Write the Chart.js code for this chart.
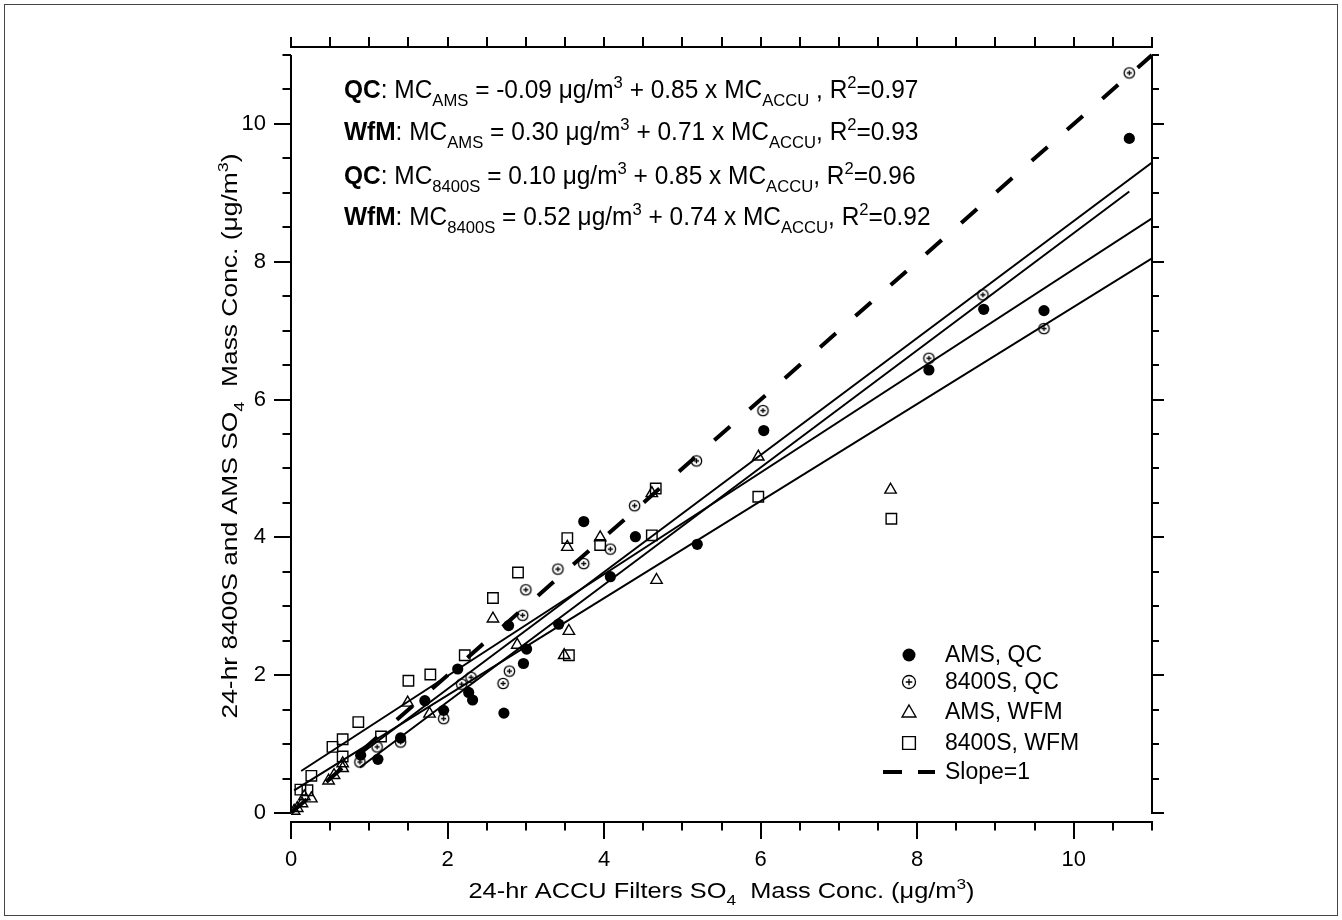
<!DOCTYPE html>
<html><head><meta charset="utf-8">
<script src="https://cdn.jsdelivr.net/npm/chart.js@4.4.1/dist/chart.umd.min.js"></script>
<style>
html,body{margin:0;padding:0;background:#fff;}
#wrap{position:relative;width:1342px;height:920px;}
canvas{display:block;}
</style></head><body>
<div id="wrap"><canvas id="c" width="1342" height="920"></canvas></div>
<script>
const FONT = '"Liberation Sans", Arial, Helvetica, sans-serif';

// ---- data ----
const amsQcX = [0.89, 1.11, 1.40, 1.71, 1.95, 2.13, 2.27, 2.32, 2.72, 2.78, 2.97, 3.01, 3.42, 3.74, 4.08, 4.40, 5.19, 6.04, 8.15, 8.85, 9.62, 10.71];
const amsQcY = [0.84, 0.78, 1.09, 1.63, 1.49, 2.09, 1.75, 1.64, 1.45, 2.72, 2.17, 2.38, 2.74, 4.23, 3.43, 4.01, 3.90, 5.55, 6.43, 7.31, 7.29, 9.79];

const s8400QcX = [0.88, 1.10, 1.40, 1.95, 2.18, 2.30, 2.71, 2.79, 2.96, 3.00, 3.41, 3.74, 4.08, 4.39, 5.18, 6.03, 8.15, 8.84, 9.62, 10.71];
const s8400QcY = [0.74, 0.96, 1.03, 1.37, 1.87, 1.97, 1.88, 2.06, 2.87, 3.24, 3.54, 3.62, 3.83, 4.46, 5.11, 5.84, 6.60, 7.52, 7.03, 10.74];

const amsWfmX = [0.04, 0.08, 0.14, 0.17, 0.26, 0.48, 0.55, 0.66, 0.66, 1.49, 1.77, 2.58, 2.89, 3.49, 3.53, 3.55, 3.95, 4.61, 4.67, 5.97, 7.66];
const amsWfmY = [0.03, 0.07, 0.14, 0.24, 0.21, 0.47, 0.55, 0.65, 0.72, 1.60, 1.44, 2.82, 2.44, 2.29, 3.86, 2.64, 4.00, 4.64, 3.38, 5.17, 4.69];

const s8400WfmX = [0.12, 0.21, 0.26, 0.53, 0.66, 0.66, 0.86, 1.15, 1.50, 1.78, 2.22, 2.58, 2.90, 3.53, 3.55, 3.95, 4.61, 4.66, 5.97, 7.67];
const s8400WfmY = [0.34, 0.33, 0.54, 0.96, 1.07, 0.82, 1.32, 1.11, 1.92, 2.01, 2.29, 3.12, 3.49, 3.99, 2.29, 3.89, 4.03, 4.71, 4.59, 4.27];

// fit lines (end points)
const fitQcAmsX = [0.88, 10.71];   const fitQcAmsY = [0.66, 9.02];
const fitWfmAmsX = [0.04, 11.0];   const fitWfmAmsY = [0.33, 8.05];
const fitQc8400X = [0.88, 11.0];   const fitQc8400Y = [0.85, 9.44];
const fitWfm8400X = [0.13, 11.0];  const fitWfm8400Y = [0.61, 8.63];
const slopeOneX = [0, 11];         const slopeOneY = [0, 11];

const xTickLabels = [0, 2, 4, 6, 8, 10];
const yTickLabels = [0, 2, 4, 6, 8, 10];
const legendLabels = ['AMS, QC', '8400S, QC', 'AMS, WFM', '8400S, WFM', 'Slope=1'];

const eqLines = [
  [{t:'QC',b:1},{t:': MC'},{t:'AMS',sub:1},{t:' = -0.09 μg/m'},{t:'3',sup:1},{t:' + 0.85 x MC'},{t:'ACCU',sub:1},{t:' , R'},{t:'2',sup:1},{t:'=0.97'}],
  [{t:'WfM',b:1},{t:': MC'},{t:'AMS',sub:1},{t:' = 0.30 μg/m'},{t:'3',sup:1},{t:' + 0.71 x MC'},{t:'ACCU',sub:1},{t:', R'},{t:'2',sup:1},{t:'=0.93'}],
  [{t:'QC',b:1},{t:': MC'},{t:'8400S',sub:1},{t:' = 0.10 μg/m'},{t:'3',sup:1},{t:' + 0.85 x MC'},{t:'ACCU',sub:1},{t:', R'},{t:'2',sup:1},{t:'=0.96'}],
  [{t:'WfM',b:1},{t:': MC'},{t:'8400S',sub:1},{t:' = 0.52 μg/m'},{t:'3',sup:1},{t:' + 0.74 x MC'},{t:'ACCU',sub:1},{t:', R'},{t:'2',sup:1},{t:'=0.92'}]
];
const xTitleRuns = [{t:'24-hr ACCU Filters SO'},{t:'4',sub:1},{t:'  Mass Conc. (μg/m'},{t:'3',sup:1},{t:')'}];
const yTitleRuns = [{t:'24-hr 8400S and AMS SO'},{t:'4',sub:1},{t:'  Mass Conc. (μg/m'},{t:'3',sup:1},{t:')'}];

const toPts = (xs, ys) => xs.map((x, i) => ({x, y: ys[i]}));

function makeCirclePlus(r, lw) {
  const s = Math.ceil(2 * r + lw + 3);
  const c = document.createElement('canvas');
  c.width = s; c.height = s;
  const g = c.getContext('2d');
  const m = s / 2;
  g.strokeStyle = '#000'; g.lineWidth = lw;
  g.beginPath(); g.arc(m, m, r, 0, Math.PI * 2); g.stroke();
  const a = r * 0.5;
  g.beginPath(); g.moveTo(m - a, m); g.lineTo(m + a, m); g.moveTo(m, m - a); g.lineTo(m, m + a); g.stroke();
  return c;
}
const cpData = makeCirclePlus(5.2, 1.3);
const cpLegend = makeCirclePlus(6.5, 1.3);

const Y_MIN = -0.13, Y_MAX = 11.116;

function runsWidth(ctx, runs, size) {
  let w = 0;
  for (const r of runs) {
    const fs = (r.sub || r.sup) ? size * 0.68 : size;
    ctx.font = (r.b ? 'bold ' : '') + fs + 'px ' + FONT;
    w += ctx.measureText(r.t).width;
  }
  return w;
}
function drawRuns(ctx, runs, x, y, size, sx) {
  ctx.save();
  ctx.translate(x, y);
  ctx.scale(sx, 1);
  ctx.textBaseline = 'alphabetic';
  ctx.textAlign = 'left';
  ctx.fillStyle = '#000';
  let cx = 0;
  for (const r of runs) {
    const fs = (r.sub || r.sup) ? size * 0.68 : size;
    ctx.font = (r.b ? 'bold ' : '') + fs + 'px ' + FONT;
    const dy = r.sub ? size * 0.3 : (r.sup ? -size * 0.42 : 0);
    ctx.fillText(r.t, cx, dy);
    cx += ctx.measureText(r.t).width;
  }
  ctx.restore();
}

const decor = {
  id: 'decor',
  afterDraw(chart) {
    const ctx = chart.ctx;
    const xs = chart.scales.x, ys = chart.scales.y;
    const ca = chart.chartArea;
    ctx.save();
    ctx.strokeStyle = '#000';
    ctx.lineCap = 'butt';
    // left and right axis lines (from 0 to 11)
    ctx.lineWidth = 2;
    const y0 = ys.getPixelForValue(0), y11 = ys.getPixelForValue(11);
    ctx.beginPath();
    ctx.moveTo(ca.left, y0 - 1); ctx.lineTo(ca.left, y11);
    ctx.moveTo(ca.right, y0 + 1); ctx.lineTo(ca.right, y11);
    ctx.stroke();
    // minor ticks
    ctx.lineWidth = 2;
    ctx.beginPath();
    for (let v = 0; v <= 11.001; v += 0.5) {
      const isMajor = Math.abs(v / 2 - Math.round(v / 2)) < 1e-6;
      if (!isMajor) {
        const px = Math.round(xs.getPixelForValue(v));
        ctx.moveTo(px, ca.bottom); ctx.lineTo(px, ca.bottom + 8.5);
      }
      const py = Math.round(ys.getPixelForValue(v));
      const ll = isMajor ? 17 : 8.5;
      if (!isMajor || v > 10.5) { ctx.moveTo(ca.left, py); ctx.lineTo(ca.left - ll, py); }
      ctx.moveTo(ca.right, py); ctx.lineTo(ca.right + (isMajor ? 12 : 7), py);
    }
    ctx.stroke();

    // equations
    const eqSize = 25;
    const eqX = 344;
    const eqBase = [98, 140, 184, 225];
    const w1 = runsWidth(ctx, eqLines[0], eqSize);
    const w4 = runsWidth(ctx, eqLines[3], eqSize);
    const sx = ((916 - eqX) / w1 + (933 - eqX) / w4) / 2;
    eqLines.forEach((runs, i) => drawRuns(ctx, runs, eqX, eqBase[i], eqSize, sx));

    // axis titles
    const tSize = 22;
    const xw = runsWidth(ctx, xTitleRuns, tSize);
    const tsx = 506 / xw;
    drawRuns(ctx, xTitleRuns, (ca.left + ca.right) / 2 - xw * tsx / 2, 898, tSize, tsx);
    const yw = runsWidth(ctx, yTitleRuns, tSize);
    const tsy = 565 / yw;
    ctx.save();
    ctx.translate(237, 436);
    ctx.rotate(-Math.PI / 2);
    drawRuns(ctx, yTitleRuns, -yw * tsy / 2, 0, tSize, tsy);
    ctx.restore();

    // legend
    const lgX = 909, lgTextX = 945;
    const lgY = [655, 682, 712, 743, 772];
    const H = Chart.helpers;
    ctx.fillStyle = '#000';
    H.drawPoint(ctx, {pointStyle: 'circle', radius: 6.5, rotation: 0, borderWidth: 0}, lgX, lgY[0]);
    H.drawPoint(ctx, {pointStyle: cpLegend, radius: 6.5, rotation: 0, borderWidth: 0}, lgX, lgY[1]);
    ctx.fillStyle = 'rgba(0,0,0,0)';
    ctx.lineWidth = 1.4;
    H.drawPoint(ctx, {pointStyle: 'triangle', radius: 8, rotation: 0, borderWidth: 1.4}, lgX, lgY[2] + 1);
    H.drawPoint(ctx, {pointStyle: 'rect', radius: 9, rotation: 0, borderWidth: 1.4}, lgX, lgY[3]);
    ctx.lineWidth = 4;
    ctx.beginPath();
    ctx.moveTo(883, lgY[4]); ctx.lineTo(902, lgY[4]);
    ctx.moveTo(918, lgY[4]); ctx.lineTo(935, lgY[4]);
    ctx.stroke();
    ctx.fillStyle = '#000';
    ctx.font = '23px ' + FONT;
    ctx.textBaseline = 'middle';
    ctx.textAlign = 'left';
    legendLabels.forEach((t, i) => ctx.fillText(t, lgTextX, lgY[i] + 1));

    // outer frame
    ctx.lineWidth = 1;
    ctx.strokeStyle = '#444';
    ctx.strokeRect(4.5, 4.5, 1333, 911);
    ctx.restore();
  }
};

const lineDs = (xs, ys, extra) => Object.assign({
  type: 'scatter', data: toPts(xs, ys), showLine: true, pointRadius: 0,
  borderColor: '#000', borderWidth: 2, fill: false, tension: 0
}, extra || {});

new Chart(document.getElementById('c'), {
  type: 'scatter',
  data: {
    datasets: [
      lineDs(slopeOneX, slopeOneY, {label: 'Slope=1', borderWidth: 4, borderDash: [21, 26]}),
      lineDs(fitQcAmsX, fitQcAmsY, {label: 'fit QC AMS'}),
      lineDs(fitWfmAmsX, fitWfmAmsY, {label: 'fit WfM AMS'}),
      lineDs(fitQc8400X, fitQc8400Y, {label: 'fit QC 8400S'}),
      lineDs(fitWfm8400X, fitWfm8400Y, {label: 'fit WfM 8400S'}),
      {label: '8400S, WFM', data: toPts(s8400WfmX, s8400WfmY), pointStyle: 'rect', pointRadius: 7.4,
       backgroundColor: 'rgba(255,255,255,0)', borderColor: '#000', borderWidth: 1.4},
      {label: 'AMS, WFM', data: toPts(amsWfmX, amsWfmY), pointStyle: 'triangle', pointRadius: 6.6,
       backgroundColor: 'rgba(255,255,255,0)', borderColor: '#000', borderWidth: 1.4},
      {label: '8400S, QC', data: toPts(s8400QcX, s8400QcY), pointStyle: cpData, pointRadius: 5,
       backgroundColor: '#000', borderColor: '#000', borderWidth: 0},
      {label: 'AMS, QC', data: toPts(amsQcX, amsQcY), pointStyle: 'circle', pointRadius: 5.6,
       backgroundColor: '#000', borderColor: '#000', borderWidth: 0}
    ]
  },
  options: {
    responsive: false, animation: false, devicePixelRatio: 1,
    layout: {padding: 0},
    plugins: {legend: {display: false}, tooltip: {enabled: false}, title: {display: false}},
    scales: {
      x: {
        type: 'linear', position: 'bottom', min: 0, max: 11,
        afterBuildTicks: s => { s.ticks = xTickLabels.map(v => ({value: v})); },
        afterFit: s => { s.height = 98; },
        ticks: {font: {family: FONT, size: 22}, color: '#000', padding: 8, autoSkip: false, maxRotation: 0, callback: v => String(v)},
        grid: {display: true, drawOnChartArea: false, drawTicks: true, tickLength: 17, tickWidth: 2, tickColor: '#000', color: '#000', lineWidth: 2},
        border: {display: true, color: '#000', width: 2}
      },
      x2: {
        type: 'linear', position: 'top', min: 0, max: 11,
        afterBuildTicks: s => { const t = []; for (let v = 0; v <= 11.001; v += 0.5) t.push({value: v}); s.ticks = t; },
        afterFit: s => { s.height = 47; },
        ticks: {display: false},
        grid: {display: true, drawOnChartArea: false, drawTicks: true, tickLength: 10, tickWidth: 2, tickColor: '#000', color: '#000', lineWidth: 2},
        border: {display: true, color: '#000', width: 2}
      },
      y: {
        type: 'linear', position: 'left', min: Y_MIN, max: Y_MAX,
        afterBuildTicks: s => { s.ticks = yTickLabels.map(v => ({value: v})); },
        afterFit: s => { s.width = 291; },
        ticks: {font: {family: FONT, size: 22}, color: '#000', padding: 8, autoSkip: false, callback: v => String(v)},
        grid: {display: true, drawOnChartArea: false, drawTicks: true, tickLength: 17, tickWidth: 2, tickColor: '#000', color: '#000', lineWidth: 2},
        border: {display: false}
      },
      y2: {
        type: 'linear', position: 'right', min: Y_MIN, max: Y_MAX,
        afterBuildTicks: s => { s.ticks = []; },
        afterFit: s => { s.width = 190; },
        ticks: {display: false},
        grid: {display: false},
        border: {display: false}
      }
    }
  },
  plugins: [decor]
});
</script>
</body></html>
